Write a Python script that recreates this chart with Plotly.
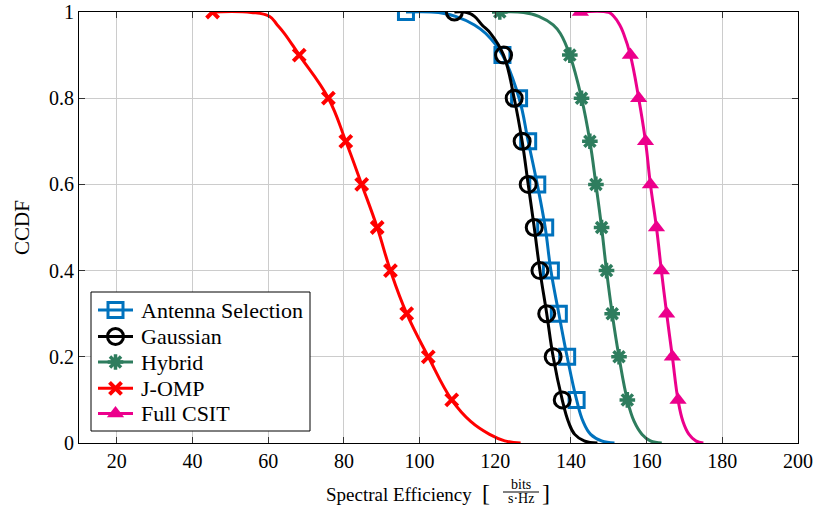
import plotly.graph_objects as go

# CCDF levels at which each curve is sampled
ccdf = [1.0, 0.999, 0.99, 0.97, 0.95, 0.9, 0.8, 0.7, 0.6, 0.5, 0.4, 0.3, 0.2, 0.1, 0.05, 0.02, 0.005, 0.0]
# levels that carry a marker
marker_levels = [1.0, 0.9, 0.8, 0.7, 0.6, 0.5, 0.4, 0.3, 0.2, 0.1]

# spectral efficiency [bits/(s·Hz)] reached at each CCDF level
antenna_selection = [96.4, 105.0, 109.5, 114.5, 117.5, 121.9, 126.3, 128.7, 131.1, 133.2, 134.7, 136.8, 139.0, 141.5, 143.2, 145.2, 148.1, 151.5]
gaussian = [109.2, 112.5, 114.5, 116.5, 118.8, 122.2, 125.0, 127.1, 128.7, 130.3, 131.8, 133.6, 135.3, 137.7, 139.3, 141.0, 143.5, 147.0]
hybrid = [121.2, 127.5, 131.5, 135.3, 137.2, 139.7, 142.8, 145.0, 146.6, 148.1, 149.4, 150.9, 152.7, 154.9, 156.7, 158.8, 161.0, 164.0]
j_omp = [45.3, 55.5, 60.3, 62.4, 64.3, 68.2, 75.9, 80.5, 84.7, 88.8, 92.3, 96.6, 102.3, 108.5, 113.5, 118.5, 122.5, 126.7]
full_csit = [142.5, 150.0, 151.3, 152.9, 153.9, 155.7, 157.9, 159.7, 161.0, 162.6, 163.9, 165.3, 166.8, 168.3, 169.6, 171.2, 173.0, 175.0]

series_names = ["Antenna Selection", "Gaussian", "Hybrid", "J-OMP", "Full CSIT"]

x_ticks = [20, 40, 60, 80, 100, 120, 140, 160, 180, 200]
y_ticks = [0, 0.2, 0.4, 0.6, 0.8, 1]
y_tick_text = ["0", "0.2", "0.4", "0.6", "0.8", "1"]

FONT = "'Liberation Serif', 'Times New Roman', Times, serif"
TICK_SIZE = 20
LEGEND_SIZE = 22

styles = [
    ("#0072BD", dict(symbol="square-open", size=15, line=dict(width=3, color="#0072BD"))),
    ("#000000", dict(symbol="circle-open", size=16, line=dict(width=3, color="#000000"))),
    ("#2E7D5E", dict(symbol="asterisk-open", size=13, line=dict(width=3.5, color="#2E7D5E"))),
    ("#FF0000", dict(symbol="x-thin-open", size=12, line=dict(width=4, color="#FF0000"))),
    ("#EC008C", dict(symbol="triangle-up", size=15, line=dict(width=0))),
]
series_values = [antenna_selection, gaussian, hybrid, j_omp, full_csit]

W, H = 817, 507
L, R, T, B = 79, 19, 12, 64
pw, ph = W - L - R, H - T - B


def px_x(p):
    return (p - L) / pw


def px_y(p):
    return (H - B - p) / ph


fig = go.Figure()
for name, xs, (color, mk) in zip(series_names, series_values, styles):
    mk = dict(mk, color=color)
    # smooth curve through all samples
    fig.add_trace(go.Scatter(
        x=xs, y=ccdf, mode="lines", name=name,
        line=dict(color=color, width=3, shape="spline", smoothing=1.2),
        showlegend=False, hoverinfo="skip"))
    # markers at the tenth levels
    mx = [x for x, c in zip(xs, ccdf) if c in marker_levels]
    my = [c for c in ccdf if c in marker_levels]
    fig.add_trace(go.Scatter(x=mx, y=my, mode="markers", name=name, marker=mk, showlegend=False))

# legend box drawn on an overlay axis pair spanning the plot area
box_l, box_r, box_t, box_b = 91, 310, 292, 431
fig.add_trace(go.Scatter(
    x=[px_x(box_l), px_x(box_r), px_x(box_r), px_x(box_l), px_x(box_l)],
    y=[px_y(box_t), px_y(box_t), px_y(box_b), px_y(box_b), px_y(box_t)],
    xaxis="x2", yaxis="y2", mode="lines", fill="toself", fillcolor="white",
    line=dict(color="#000", width=1), showlegend=False, hoverinfo="skip"))

row_y = [310, 336.5, 362, 388.3, 413.5]
sample_x0, sample_x1, text_x = 98, 133, 139
ann = []
for name, ry, (color, mk) in zip(series_names, row_y, styles):
    mk = dict(mk, color=color)
    fig.add_trace(go.Scatter(
        x=[px_x(sample_x0), px_x(sample_x1)], y=[px_y(ry), px_y(ry)], xaxis="x2", yaxis="y2",
        mode="lines", line=dict(color=color, width=3), showlegend=False, hoverinfo="skip"))
    fig.add_trace(go.Scatter(
        x=[px_x((sample_x0 + sample_x1) / 2)], y=[px_y(ry)], xaxis="x2", yaxis="y2",
        mode="markers", marker=mk, showlegend=False, hoverinfo="skip"))
    ann.append(dict(text=name, x=px_x(text_x), y=px_y(ry), xref="paper", yref="paper",
                    xanchor="left", yanchor="middle", showarrow=False,
                    font=dict(family=FONT, size=LEGEND_SIZE, color="#000")))

axis_common = dict(
    showgrid=True, gridcolor="#cccccc", gridwidth=1,
    showline=True, linecolor="#000000", linewidth=1, mirror="allticks",
    ticks="inside", ticklen=6, tickcolor="#333333", tickwidth=1,
    zeroline=False, tickfont=dict(family=FONT, size=TICK_SIZE, color="#000000"),
)


def text_ann(text, x, y, size, xanchor="center", angle=0):
    return dict(text=text, x=px_x(x), y=px_y(y), xref="paper", yref="paper",
                xanchor=xanchor, yanchor="middle", textangle=angle, showarrow=False,
                font=dict(family=FONT, size=size, color="#000"))


ann += [
    # y-axis title
    text_ann("CCDF", 22, 228, 21, angle=-90),
    # x-axis title with a stacked fraction for the unit
    text_ann("Spectral Efficiency", 474, 494, 19, xanchor="right"),
    text_ann("[", 480, 493, 24, xanchor="left"),
    text_ann("bits", 521, 484, 14),
    text_ann("s·Hz", 521, 498.5, 14),
    text_ann("]", 540, 493, 24, xanchor="left"),
]

fig.update_layout(
    width=W, height=H,
    margin=dict(l=L, r=R, t=T, b=B, pad=0, autoexpand=False),
    paper_bgcolor="white", plot_bgcolor="white",
    font=dict(family=FONT, size=18, color="#000"),
    xaxis=dict(range=[10, 200], tickvals=x_ticks, **axis_common),
    yaxis=dict(range=[0, 1], tickvals=y_ticks, ticktext=y_tick_text, **axis_common),
    xaxis2=dict(overlaying="x", range=[0, 1], visible=False, anchor="y2"),
    yaxis2=dict(overlaying="y", range=[0, 1], visible=False, anchor="x2"),
    annotations=ann,
    shapes=[dict(type="line", xref="paper", yref="paper",
                 x0=px_x(503), x1=px_x(539), y0=px_y(492), y1=px_y(492),
                 line=dict(color="#000", width=1))],
    showlegend=False,
)

fig.write_html("out.html")
